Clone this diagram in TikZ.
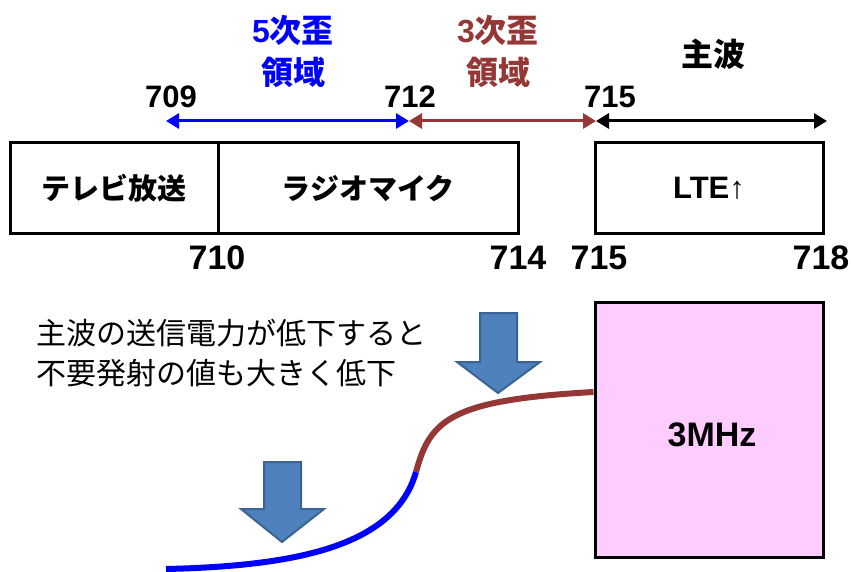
\documentclass[tikz,border=0pt]{standalone}
\usepackage{fontspec}
\setmainfont{Liberation Sans}
\newfontfamily\cjk{Noto Sans CJK JP}
\newfontfamily\lat{Liberation Sans}
\usetikzlibrary{arrows.meta}
\definecolor{brn}{HTML}{953735}
\definecolor{pblue}{HTML}{0000FF}
\definecolor{afill}{HTML}{4F81BD}
\definecolor{aedge}{HTML}{3A6494}
\definecolor{pinkf}{HTML}{FFCCFF}
\tikzset{
  lbl/.style={font=\cjk\bfseries\fontsize{32}{42}\selectfont, align=center, inner sep=0pt},
  num/.style={font=\lat\bfseries\fontsize{31}{36}\selectfont, inner sep=0pt},
  bnum/.style={font=\lat\bfseries\fontsize{34}{38}\selectfont, inner sep=0pt},
  boxtxt/.style={font=\cjk\bfseries\fontsize{29}{34}\selectfont, inner sep=0pt},
  body/.style={font=\cjk\fontsize{30}{40}\selectfont, inner sep=0pt, anchor=west},
  span/.style={line width=3pt, {Triangle[length=13pt,width=15pt]}-{Triangle[length=13pt,width=15pt]}},
  band/.style={draw=black, line width=3pt},
  blockarrow/.style={fill=afill, draw=aedge, line width=2pt, line join=miter},
  curve/.style={line width=6pt}
}
\begin{document}
\begin{tikzpicture}[x=1pt,y=-1pt]
\useasboundingbox (0,0) rectangle (851,572);
% top labels
\node[lbl, text=pblue] (l5) at (293,51) {{\lat 5}次歪\\領域};
\node[lbl, text=brn] (l3) at (498,51) {{\lat 3}次歪\\領域};
\node[lbl] (lm) at (713,54) {主波};
% top numbers
\node[num] (n709) at (171,97) {709};
\node[num] (n712) at (410,97) {712};
\node[num] (n715) at (610,97) {715};
% span arrows
\coordinate (a709) at (166,121);
\coordinate (a712) at (409,121);
\coordinate (a715) at (596,121);
\coordinate (a718) at (827,121);
\draw[span, pblue] (a709) -- (a712);
\draw[span, brn] (a712) -- (a715);
\draw[span, black] (a715) -- (a718);
% band boxes
\node[band, minimum width=208pt, minimum height=90pt, inner sep=0pt] (tv) at (114,188) {};
\node[band, minimum width=300pt, minimum height=90pt, inner sep=0pt] (mic) at (368,188) {};
\node[band, minimum width=228pt, minimum height=90pt, inner sep=0pt] (lte) at (709,188) {};
\node[boxtxt] (tvt) at (tv.center) {テレビ放送};
\node[boxtxt] (mict) at (mic.center) {ラジオマイク};
\node[font=\lat\bfseries\fontsize{31}{36}\selectfont, inner sep=0pt] (ltet) at (lte.center) {LTE↑};
% bottom numbers
\node[bnum] (n710) at (217,258) {710};
\node[bnum] (n714) at (518,258) {714};
\node[bnum] (n715b) at (599,258) {715};
\node[bnum] (n718) at (821,258) {718};
% pink box
\node[draw=black, fill=pinkf, line width=3pt, minimum width=228pt, minimum height=255pt, inner sep=0pt] (pk) at (709,430) {};
\node[font=\lat\bfseries\fontsize{34}{38}\selectfont, inner sep=0pt] (pkt) at (712,435) {3MHz};
% explanatory text
\node[body] (t1) at (36,333) {主波の送信電力が低下すると};
\node[body] (t2) at (36,373) {不要発射の値も大きく低下};
% block arrows
\draw[blockarrow] (480,313) -- (517,313) -- (517,362) -- (540,362) -- (498,393) -- (457,362) -- (480,362) -- cycle;
\draw[blockarrow] (264,462) -- (301,462) -- (301,509) -- (324,509) -- (282,542) -- (241,509) -- (264,509) -- cycle;
% curve
\coordinate (c0) at (166,569);
\coordinate (c1) at (416,472);
\coordinate (c2) at (pk.west |- 0,392);
\draw[curve, pblue] (c0) .. controls (300,566) and (395,545) .. (c1);
\draw[curve, brn] (c1) .. controls (430,420) and (450,400) .. (c2);
\end{tikzpicture}
\end{document}
